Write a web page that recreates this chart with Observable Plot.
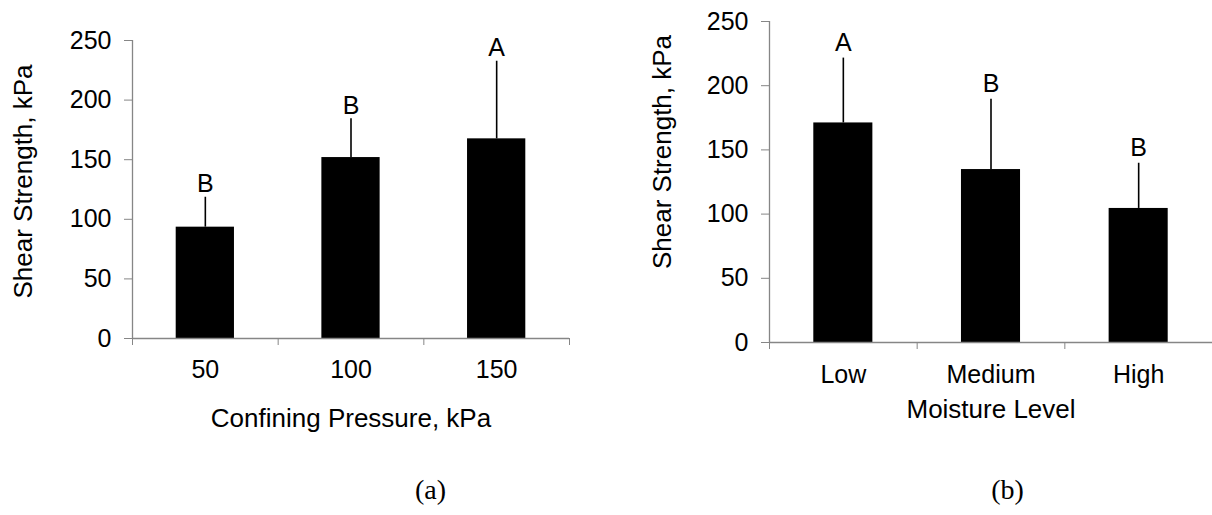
<!DOCTYPE html>
<html>
<head>
<meta charset="utf-8">
<script src="https://cdn.jsdelivr.net/npm/d3@7"></script>
<script src="https://cdn.jsdelivr.net/npm/@observablehq/plot@0.6"></script>
<style>
  html, body { margin: 0; padding: 0; background: #fff; }
  #wrap { width: 1212px; height: 515px; display: flex; background: #fff; }
  #wrap svg { overflow: visible; }
</style>
</head>
<body>
<div id="wrap"></div>
<script>
// ---- Panel (a): Confining pressure ----
const catsA = ["50", "100", "150"];
const meansA = [93.4, 151.8, 167.5];
const sdA = [25.1, 32.5, 65.1];
const lettersA = ["B", "B", "A"];
const xTitleA = "Confining Pressure, kPa";
const captionA = "(a)";

// ---- Panel (b): Moisture level ----
const catsB = ["Low", "Medium", "High"];
const meansB = [171.0, 134.7, 104.4];
const sdB = [50.5, 54.7, 35.2];
const lettersB = ["A", "B", "B"];
const xTitleB = "Moisture Level";
const captionB = "(b)";

const yTitle = "Shear Strength, kPa";
const yTicks = [0, 50, 100, 150, 200, 250];

const axisGray = "#868686";
const sans = "'Liberation Sans', Arial, sans-serif";
const serif = "'Liberation Serif', 'Times New Roman', serif";

function panel(cats, means, sds, letters, xTitle, caption, lay) {
  const rows = cats.map((c, i) => ({i, cat: c, mean: means[i], top: means[i] + sds[i], letter: letters[i]}));
  const bounds = d3.range(cats.length + 1);
  return Plot.plot({
    width: lay.width,
    height: 515,
    marginLeft: lay.ml,
    marginRight: lay.mr,
    marginTop: lay.mt,
    marginBottom: lay.mb,
    style: {fontFamily: sans, fontSize: "25px", color: "black", background: "white", overflow: "visible"},
    x: {type: "linear", domain: [0, cats.length], axis: null},
    y: {domain: [0, 250], axis: null},
    marks: [
      Plot.axisY({ticks: yTicks, tickSize: 8, tickPadding: 13, stroke: axisGray, fill: "black", label: null}),
      Plot.axisX({ticks: bounds, tickSize: 7, tickFormat: () => "", stroke: axisGray, label: null}),
      Plot.ruleX([0], {stroke: axisGray, strokeWidth: 1.3}),
      Plot.rectY(rows, {x1: d => d.i + 0.3, x2: d => d.i + 0.7, y: "mean", fill: "black"}),
      Plot.ruleY([0], {stroke: axisGray, strokeWidth: 1.3}),
      Plot.ruleX(rows, {x: d => d.i + 0.5, y1: "mean", y2: "top", stroke: "black", strokeWidth: 1.6}),
      Plot.text(rows, {x: d => d.i + 0.5, y: "top", text: "letter", lineAnchor: "bottom", dy: lay.letterDy, fontSize: 25}),
      Plot.text(rows, {x: d => d.i + 0.5, frameAnchor: "bottom", text: "cat", lineAnchor: "middle", dy: lay.catDy, fontSize: 25}),
      Plot.text([xTitle], {frameAnchor: "bottom", text: d => d, textAnchor: "middle", lineAnchor: "middle", dy: lay.xtDy, dx: lay.xtDx, fontSize: 26}),
      Plot.text([yTitle], {frameAnchor: "left", text: d => d, rotate: -90, textAnchor: "middle", lineAnchor: "middle", dx: lay.ytDx, dy: lay.ytDy, fontSize: 26}),
      Plot.text([caption], {frameAnchor: "bottom-left", text: d => d, textAnchor: "middle", lineAnchor: "middle", dx: lay.capDx, dy: lay.capDy, fontSize: 28, fontFamily: serif})
    ]
  });
}

const wrap = document.getElementById("wrap");
wrap.appendChild(panel(catsA, meansA, sdA, lettersA, xTitleA, captionA, {
  width: 606, ml: 132, mr: 37, mt: 40, mb: 177,
  letterDy: -5, catDy: 31, xtDy: 80, xtDx: 0, ytDx: -109, ytDy: -8, capDx: 298, capDy: 152
}));
wrap.appendChild(panel(catsB, meansB, sdB, lettersB, xTitleB, captionB, {
  width: 606, ml: 163, mr: 0, mt: 21, mb: 173,
  letterDy: -7, catDy: 32, xtDy: 67, xtDx: 0, ytDx: -107, ytDy: -30, capDx: 238, capDy: 148
}));
</script>
</body>
</html>
